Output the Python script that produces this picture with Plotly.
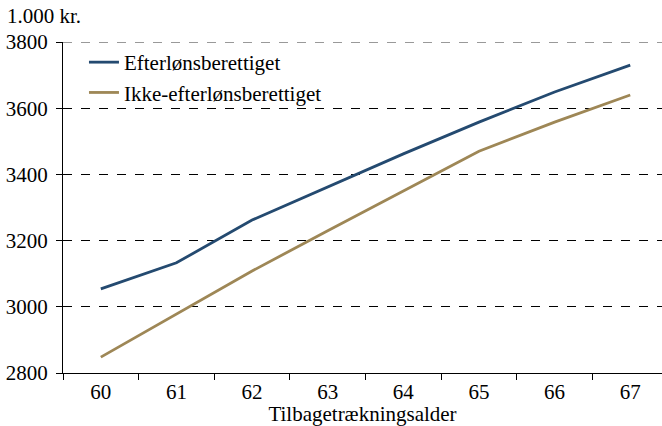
import plotly.graph_objects as go

# Retirement age categories and average values (1.000 kr.)
ages = ["60", "61", "62", "63", "64", "65", "66", "67"]
efterlon = [3054, 3133, 3262, 3363, 3462, 3558, 3649, 3730]
ikke_efterlon = [2848, 2979, 3108, 3230, 3351, 3470, 3558, 3640]

y_ticks = [2800, 3000, 3200, 3400, 3600, 3800]

FONT = "Liberation Serif"
BLUE = "#244A70"
TAN = "#9E8756"
SIZE = 21
TXT = dict(family=FONT, size=SIZE, color="#000000")

fig = go.Figure()
fig.add_trace(go.Scatter(
    x=ages, y=efterlon, mode="lines", name="Efterlønsberettiget",
    line=dict(color=BLUE, width=2.8),
))
fig.add_trace(go.Scatter(
    x=ages, y=ikke_efterlon, mode="lines", name="Ikke-efterlønsberettiget",
    line=dict(color=TAN, width=2.8),
))

# dashed gridline along the top of the value range
fig.add_shape(
    type="line", xref="paper", yref="y", x0=0, x1=1, y0=y_ticks[-1], y1=y_ticks[-1],
    line=dict(color="black", width=0.8, dash="dash"), layer="below",
)

fig.update_layout(
    width=662, height=426,
    margin=dict(l=63, r=0, t=42, b=53),
    paper_bgcolor="white", plot_bgcolor="white",
    font=TXT,
    showlegend=True,
    legend=dict(
        x=0.035, y=1.0, xanchor="left", yanchor="top",
        bgcolor="rgba(0,0,0,0)", font=TXT,
    ),
    xaxis=dict(
        type="category", range=[-0.5, 7.42],
        tickson="boundaries", ticks="outside", ticklen=6, tickcolor="black",
        showline=True, linecolor="black", linewidth=1,
        showgrid=False, zeroline=False,
        tickfont=TXT,
        title=dict(text="Tilbagetrækningsalder", font=TXT, standoff=3),
    ),
    yaxis=dict(
        range=[2800, 3800], tickvals=y_ticks,
        ticks="outside", ticklen=6, tickcolor="black", ticklabelstandoff=4,
        showline=True, linecolor="black", linewidth=1,
        showgrid=True, gridcolor="black", griddash="dash", gridwidth=0.8,
        zeroline=False,
        tickfont=TXT,
    ),
    annotations=[dict(
        text="1.000 kr.", xref="paper", yref="paper",
        x=-0.097, y=1.0, xanchor="left", yanchor="bottom", yshift=12,
        showarrow=False, font=TXT,
    )],
)

fig.write_html("out.html")
